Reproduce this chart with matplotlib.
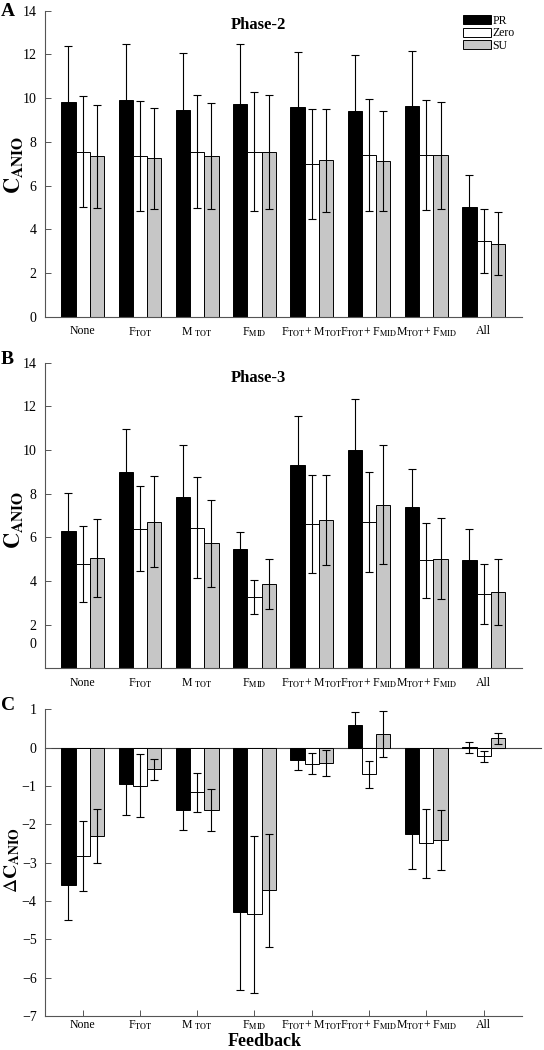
import matplotlib
matplotlib.use('Agg')
import matplotlib.pyplot as plt
import matplotlib.transforms as mtransforms
from matplotlib.patches import Patch
import numpy as np

plt.rcParams['font.family'] = ['Liberation Serif', 'DejaVu Serif']
plt.rcParams['mathtext.fontset'] = 'stix'

groups = ['None', r'F$_{\mathrm{TOT}}$', r'M $_{\mathrm{TOT}}$', r'F$_{\mathrm{MID}}$',
          r'F$_{\mathrm{TOT}}$+ M$_{\mathrm{TOT}}$', r'F$_{\mathrm{TOT}}$+ F$_{\mathrm{MID}}$',
          r'M$_{\mathrm{TOT}}$+ F$_{\mathrm{MID}}$', 'All']
series = ['PR', 'Zero', 'SU']
colours = ['black', 'white', '#c6c6c6']

# phase-2
p2_pr = [9.81, 9.91, 9.46, 9.75, 9.58, 9.39, 9.64, 5.02]
p2_zero = [7.55, 7.34, 7.55, 7.55, 7.00, 7.38, 7.38, 3.46]
p2_su = [7.34, 7.24, 7.34, 7.55, 7.15, 7.11, 7.38, 3.34]
p2_pr_err = [2.56, 2.55, 2.60, 2.73, 2.53, 2.58, 2.51, 1.46]
p2_zero_err = [2.53, 2.52, 2.59, 2.72, 2.52, 2.56, 2.52, 1.45]
p2_su_err = [2.35, 2.30, 2.42, 2.60, 2.35, 2.28, 2.44, 1.44]

# phase-3
p3_pr = [6.27, 9.00, 7.87, 5.47, 9.30, 10.00, 7.41, 4.97]
p3_zero = [4.77, 6.39, 6.45, 3.26, 6.62, 6.72, 4.94, 3.40]
p3_su = [5.05, 6.72, 5.73, 3.86, 6.80, 7.50, 5.02, 3.49]
p3_pr_err = [1.75, 1.95, 2.35, 0.78, 2.26, 2.32, 1.71, 1.40]
p3_zero_err = [1.75, 1.95, 2.33, 0.77, 2.25, 2.29, 1.71, 1.38]
p3_su_err = [1.80, 2.08, 1.99, 1.14, 2.06, 2.74, 1.86, 1.50]

# difference
d_pr = [-3.57, -0.96, -1.62, -4.30, -0.31, 0.58, -2.25, 0.01]
d_zero = [-2.82, -0.99, -1.17, -4.35, -0.42, -0.70, -2.50, -0.23]
d_su = [-2.31, -0.57, -1.63, -3.72, -0.40, 0.35, -2.40, 0.24]
d_pr_err = [0.92, 0.81, 0.52, 2.03, 0.27, 0.35, 0.92, 0.14]
d_zero_err = [0.91, 0.82, 0.50, 2.04, 0.28, 0.35, 0.91, 0.15]
d_su_err = [0.71, 0.28, 0.55, 1.47, 0.35, 0.60, 0.78, 0.15]

W, H = 544, 1050
fig = plt.figure(figsize=(W / 100, H / 100), dpi=100)


def ax_at(left, right, top, bottom):
    return fig.add_axes([left / W, 1 - bottom / H, (right - left) / W, (bottom - top) / H])


def bars(ax, vals, errs):
    x = np.arange(1, len(groups) + 1)
    bw = 0.248
    for i, (v, e) in enumerate(zip(vals, errs)):
        xs = x + (i - 1) * bw
        ax.bar(xs, v, bw, color=colours[i], edgecolor='black', linewidth=0.7, zorder=2)
        ax.errorbar(xs, v, yerr=e, fmt='none', ecolor='black', elinewidth=0.8,
                    capsize=2.8, capthick=0.8, zorder=3)
    ax.set_xlim(0.343, 8.67)
    ax.set_xticks(x)
    ax.set_xticklabels(groups, fontsize=8.5)
    for s in ['top', 'right']:
        ax.spines[s].set_visible(False)
    for s in ['left', 'bottom']:
        ax.spines[s].set_color('#555555')
        ax.spines[s].set_linewidth(0.8)
    ax.tick_params(axis='y', direction='in', length=4, width=0.7, color='#555555',
                   labelsize=10, pad=6)
    ax.tick_params(axis='x', length=0, pad=6)


axA = ax_at(45, 522, 10.7, 316.7)
bars(axA, [p2_pr, p2_zero, p2_su], [p2_pr_err, p2_zero_err, p2_su_err])
axA.set_ylim(0, 14)
axA.set_yticks(range(0, 15, 2))
handles = [Patch(facecolor=c, edgecolor='black', linewidth=0.7) for c in colours]
axA.legend(handles, series, loc='upper right', bbox_to_anchor=(1.0, 1.01), frameon=False,
           fontsize=8.5, handlelength=2.4, handleheight=0.75, labelspacing=0.05,
           handletextpad=0.15, borderpad=0.1)

axB = ax_at(45, 522, 362.7, 668.3)
bars(axB, [p3_pr, p3_zero, p3_su], [p3_pr_err, p3_zero_err, p3_su_err])
axB.set_ylim(0, 14)
axB.set_yticks(range(2, 15, 2))
trB = mtransforms.blended_transform_factory(axB.transAxes, axB.transData)
axB.text(-0.0175, 1.1, '0', transform=trB, ha='right', va='center', fontsize=10)

axC = ax_at(45, 522, 709.3, 1016)
bars(axC, [d_pr, d_zero, d_su], [d_pr_err, d_zero_err, d_su_err])
axC.set_ylim(-7, 1)
axC.set_yticks(range(-7, 2))
axC.axhline(0, color='#444444', linewidth=0.8, zorder=1, xmax=1.04, clip_on=False)
axC.tick_params(axis='x', direction='in', length=4, width=0.7, color='#555555', pad=2)

fig.text(14 / W, 1 - 165 / H, r'$\mathbf{C_{ANIO}}$', rotation=90, ha='center', va='center', fontsize=16)
fig.text(14 / W, 1 - 520 / H, r'$\mathbf{C_{ANIO}}$', rotation=90, ha='center', va='center', fontsize=16)
fig.text(12 / W, 1 - 860 / H, r'$\Delta\mathbf{C_{ANIO}}$', rotation=90, ha='center', va='center', fontsize=14)
fig.text(265 / W, 1 - 1049.5 / H, 'Feedback', ha='center', va='bottom', fontsize=13, fontweight='bold')

fig.text(258 / W, 1 - 25 / H, 'Phase-2', ha='center', va='center', fontsize=12, fontweight='bold')
fig.text(258 / W, 1 - 378 / H, 'Phase-3', ha='center', va='center', fontsize=12, fontweight='bold')
for lab, y in [('A', 12), ('B', 360), ('C', 706)]:
    fig.text(1 / W, 1 - y / H, lab, ha='left', va='center', fontsize=14, fontweight='bold')

fig.savefig('out.png', dpi=100)
